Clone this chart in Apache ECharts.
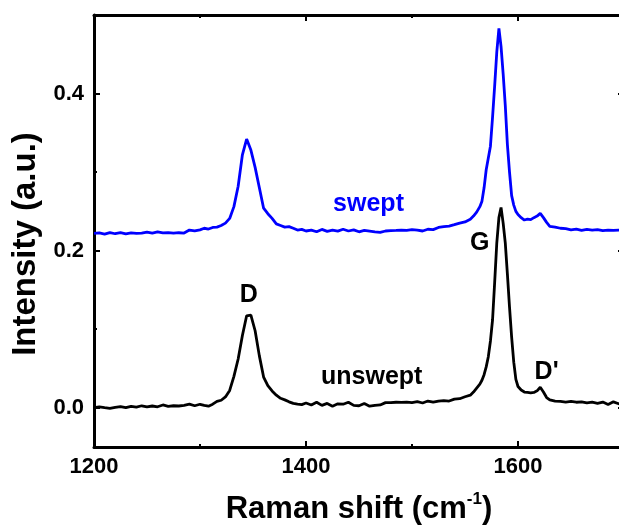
<!DOCTYPE html>
<html>
<head>
<meta charset="utf-8">
<script src="https://cdn.jsdelivr.net/npm/echarts@6/dist/echarts.min.js"></script>
<style>html,body{margin:0;padding:0;background:#fff}#main{width:619px;height:527px}</style>
</head>
<body>
<div id="main"></div>
<script>
// Raman shift (cm-1), sampled more densely around the peaks
var shifts = [
  1200,1205,1210,1215,1220,1225,1230,1235,1240,1245,1250,1255,1260,1265,1270,1275,1280,1285,1290,1295,
  1300,1304,1308,1312,1316,1320,1324,1328,1332,1336,1340,1344,1348,1352,1356,1360,1364,1368,1372,1376,1380,1384,1388,1392,1396,
  1400,1405,1410,1415,1420,1425,1430,1435,1440,1445,1450,1455,1460,1465,1470,1475,1480,1485,1490,1495,1500,1505,1510,1515,1520,1525,1530,1535,1540,
  1545,1550,1555,1558,1561,1564,1566,1568,1570,1572,1574,1576,1578,1580,1582,1584,1586,1588,1590,1592,1594,1596,1598,1600,
  1603,1606,1609,1612,1615,1618,1621,1624,1627,1630,1635,1640,1645,1650,1655,1660,1665,1670,1675,1680,1685,1690,1695,1700
];
var swept = [
  0.2220,0.2225,0.2210,0.2230,0.2215,0.2228,0.2212,0.2225,0.2220,0.2222,0.2235,0.2222,0.2238,0.2225,0.2230,0.2222,0.2228,0.2224,0.2262,0.2252,
  0.2265,0.2285,0.2275,0.2295,0.2300,0.2320,0.2350,0.2410,0.2560,0.2820,0.3220,0.3420,0.3280,0.3060,0.2800,0.2540,0.2470,0.2410,0.2340,0.2320,0.2300,0.2305,0.2285,0.2262,0.2270,
  0.2250,0.2262,0.2240,0.2270,0.2245,0.2260,0.2248,0.2272,0.2250,0.2265,0.2240,0.2258,0.2248,0.2238,0.2232,0.2250,0.2255,0.2258,0.2262,0.2258,0.2268,0.2262,0.2250,0.2272,0.2268,0.2295,0.2305,0.2312,0.2330,
  0.2350,0.2365,0.2400,0.2440,0.2490,0.2560,0.2630,0.2800,0.3030,0.3180,0.3330,0.3700,0.4100,0.4530,0.4830,0.4600,0.4250,0.3850,0.3350,0.3000,0.2700,0.2580,0.2500,0.2460,
  0.2420,0.2390,0.2400,0.2395,0.2420,0.2440,0.2475,0.2420,0.2360,0.2310,0.2300,0.2285,0.2280,0.2265,0.2275,0.2258,0.2270,0.2262,0.2268,0.2255,0.2262,0.2258,0.2262,0.2255
];
var unswept = [
  0.0000,0.0010,0.0000,-0.0008,0.0005,0.0015,0.0000,0.0018,0.0008,0.0025,0.0010,0.0022,0.0012,0.0035,0.0018,0.0025,0.0022,0.0030,0.0045,0.0025,
  0.0044,0.0030,0.0020,0.0045,0.0080,0.0095,0.0137,0.0220,0.0400,0.0620,0.0920,0.1170,0.1180,0.0980,0.0660,0.0390,0.0280,0.0214,0.0160,0.0120,0.0100,0.0075,0.0055,0.0045,0.0040,
  0.0060,0.0035,0.0070,0.0030,0.0055,0.0020,0.0050,0.0045,0.0070,0.0030,0.0025,0.0055,0.0020,0.0030,0.0035,0.0065,0.0065,0.0070,0.0068,0.0072,0.0065,0.0078,0.0060,0.0085,0.0070,0.0085,0.0090,0.0085,0.0110,
  0.0115,0.0140,0.0160,0.0200,0.0250,0.0300,0.0350,0.0420,0.0520,0.0650,0.0850,0.1120,0.1600,0.2100,0.2420,0.2550,0.2350,0.2100,0.1700,0.1280,0.0900,0.0580,0.0360,0.0270,
  0.0225,0.0200,0.0195,0.0190,0.0195,0.0215,0.0260,0.0200,0.0130,0.0100,0.0085,0.0080,0.0072,0.0080,0.0070,0.0075,0.0062,0.0070,0.0055,0.0072,0.0040,0.0075,0.0050,0.0065
];

// tick positions
var xMajor = [1200, 1400, 1600];
var xMinor = [1300, 1500];
var yMajor = [0, 0.2, 0.4];
var yMinor = [0.1, 0.3];

// text labels on the plot: [text, shift, intensity, colour]
var notes = [
  ['swept', 1459, 0.2586, '#0000ff'],
  ['unswept', 1462, 0.0394, '#000000'],
  ['D', 1346, 0.143, '#000000'],
  ['G', 1564, 0.2095, '#000000'],
  ["D'", 1627, 0.0449, '#000000']
];

var font = '"Liberation Sans", Arial, sans-serif';
var myChart = echarts.init(document.getElementById('main'));

function pairs(vals) {
  return shifts.map(function (x, i) { return [x, vals[i]]; });
}

function xAxisOf(pos, ticks, len, withLine, withLabel) {
  var ax = {
    type: 'value', position: pos, min: 1200, max: 1700,
    axisLine: { show: withLine, onZero: false, lineStyle: { color: '#000', width: 3 } },
    axisTick: { show: true, inside: true, length: len, customValues: ticks, lineStyle: { color: '#000', width: 2 } },
    axisLabel: {
      show: withLabel, customValues: ticks, margin: 9, color: '#000', fontFamily: font, fontWeight: 'bold', fontSize: 22,
      formatter: function (v) { return String(v); }
    },
    splitLine: { show: false }
  };
  if (withLabel) {
    ax.name = 'Raman shift (cm{sup|-1})';
    ax.nameLocation = 'middle';
    ax.nameGap = 44;
    ax.nameTextStyle = {
      color: '#000', fontFamily: font, fontWeight: 'bold', fontSize: 31, lineHeight: 36,
      rich: { sup: { color: '#000', fontFamily: font, fontWeight: 'bold', fontSize: 17, lineHeight: 16, verticalAlign: 'top' } }
    };
  }
  return ax;
}

function yAxisOf(pos, ticks, len, withLine, withLabel) {
  var ax = {
    type: 'value', position: pos, min: -0.05, max: 0.5,
    axisLine: { show: withLine, onZero: false, lineStyle: { color: '#000', width: 3 } },
    axisTick: { show: true, inside: true, length: len, customValues: ticks, lineStyle: { color: '#000', width: 2 } },
    axisLabel: {
      show: withLabel, customValues: ticks, margin: 10, color: '#000', fontFamily: font, fontWeight: 'bold', fontSize: 22,
      formatter: function (v) { return v.toFixed(1); }
    },
    splitLine: { show: false }
  };
  if (withLabel) {
    ax.name = 'Intensity (a.u.)';
    ax.nameLocation = 'middle';
    ax.nameGap = 47;
    ax.nameTextStyle = { color: '#000', fontFamily: font, fontWeight: 'bold', fontSize: 33, lineHeight: 34, padding: [0, 26, 0, 0] };
  }
  return ax;
}

var noteSeries = notes.map(function (n) {
  return {
    type: 'scatter', xAxisIndex: 0, yAxisIndex: 0, silent: true,
    symbolSize: 0, itemStyle: { color: n[3], opacity: 1 },
    data: [[n[1], n[2]]],
    label: {
      show: true, position: [0, 0], align: 'center', verticalAlign: 'middle', formatter: n[0],
      color: n[3], opacity: 1, textBorderWidth: 0, fontFamily: font, fontWeight: 'bold', fontSize: 25
    }
  };
});

var option = {
  animation: false,
  backgroundColor: '#fff',
  grid: { left: 94, top: 15, right: -5, bottom: 80, containLabel: false, outerBoundsMode: 'none' },
  xAxis: [
    xAxisOf('bottom', xMajor, 6, true, true),
    xAxisOf('bottom', xMinor, 3, false, false),
    xAxisOf('top', xMajor, 6, true, false),
    xAxisOf('top', xMinor, 3, false, false)
  ],
  yAxis: [
    yAxisOf('left', yMajor, 6, true, true),
    yAxisOf('left', yMinor, 3, false, false),
    yAxisOf('right', yMajor, 6, true, false),
    yAxisOf('right', yMinor, 3, false, false)
  ],
  series: [
    {
      name: 'unswept', type: 'line', xAxisIndex: 0, yAxisIndex: 0,
      data: pairs(unswept), showSymbol: false, symbol: 'none',
      lineStyle: { color: '#000', width: 2.8 }
    },
    {
      name: 'swept', type: 'line', xAxisIndex: 0, yAxisIndex: 0,
      data: pairs(swept), showSymbol: false, symbol: 'none',
      lineStyle: { color: '#0000ff', width: 2.8 }
    }
  ].concat(noteSeries)
};

myChart.setOption(option);
</script>
</body>
</html>
